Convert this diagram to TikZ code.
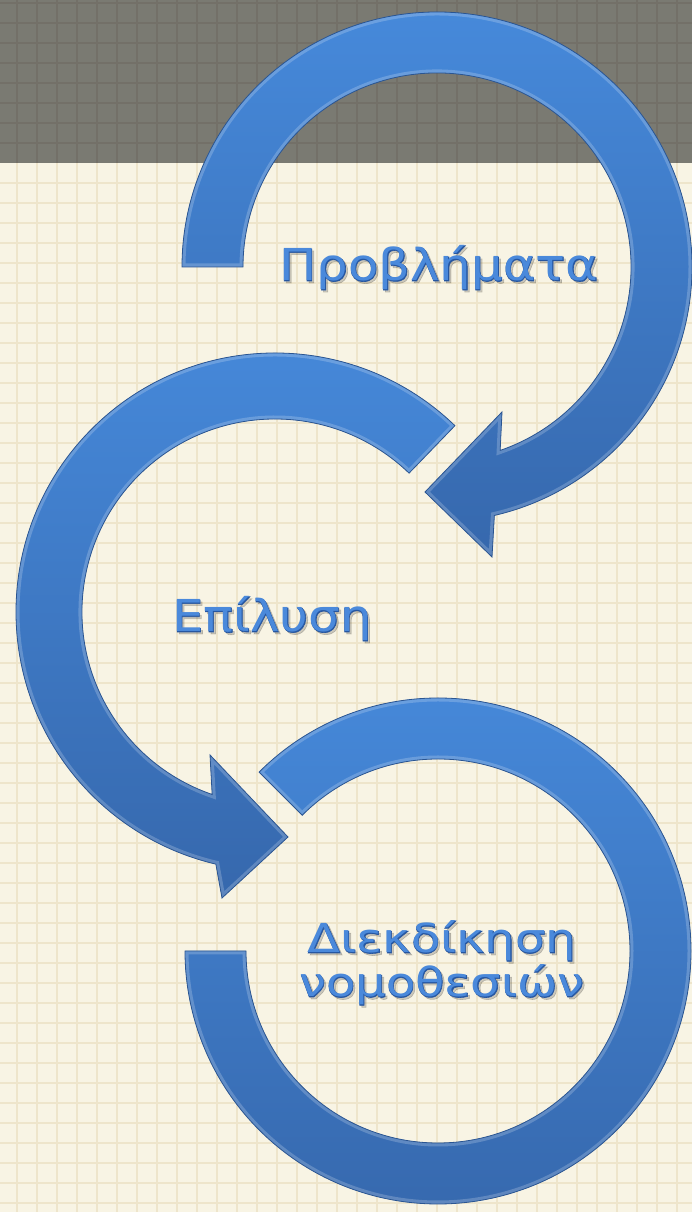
\documentclass[tikz,border=0pt]{standalone}
\usepackage{fontspec}
\setmainfont{DejaVu Sans}
\newfontfamily\lblfont[FakeStretch=1.13]{DejaVu Sans}
\newfontfamily\lblfontB[FakeStretch=1.13,FakeBold=1.4]{DejaVu Sans}
\newfontfamily\lblfontS[FakeStretch=1.2]{DejaVu Sans}
\newfontfamily\lblfontSB[FakeStretch=1.2,FakeBold=1.4]{DejaVu Sans}
\definecolor{bandgray}{HTML}{7A7A72}
\definecolor{bandline}{HTML}{737068}
\definecolor{paper}{HTML}{F8F4E4}
\definecolor{paperline}{HTML}{EEE5CB}
\definecolor{arrtop}{HTML}{4689DA}
\definecolor{arrbot}{HTML}{3668AD}
\definecolor{arredge}{HTML}{2A5592}
\definecolor{txtfill}{HTML}{4A89DB}
\definecolor{txtedge}{HTML}{2656A0}
\tikzset{
  arrowfill/.style={top color=arrtop, bottom color=arrbot},
  arrowedge/.style={draw=arredge, line width=0.8pt, line join=miter},
  arrowglow/.style={draw=white, opacity=0.2, line width=7pt},
  arrowshadow/.style={fill=black, opacity=0.09},
  lbl/.style={inner sep=0pt, anchor=base, text=txtfill},
  lbledge/.style={inner sep=0pt, anchor=base, text=txtedge},
  lblshadow/.style={inner sep=0pt, anchor=base, text=black, opacity=0.18}
}
\begin{document}
\begin{tikzpicture}[x=1pt,y=1pt]
\useasboundingbox (0,0) rectangle (692,1212);
\clip (0,0) rectangle (692,1212);
% background
\fill[paper] (0,0) rectangle (692,1049);
\fill[bandgray] (0,1049) rectangle (692,1212);
\foreach \gx in {17,37,...,677} {
  \draw[paperline, line width=1.3pt] (\gx,0) -- (\gx,1049);
  \draw[bandline, line width=1.3pt] (\gx,1049) -- (\gx,1212);
}
\foreach \gy in {9,29,...,1029} {
  \draw[paperline, line width=1.3pt] (0,\gy) -- (692,\gy);
}
\foreach \gy in {1069,1089,...,1209} {
  \draw[bandline, line width=1.3pt] (0,\gy) -- (692,\gy);
}
% centres
\coordinate (c1) at (437,945);
\coordinate (c2) at (275,600);
\coordinate (c3) at (438,261);
% arrow 1
\path (c1) ++(180:255) coordinate (s1o);
\path (c1) ++(-71:194) coordinate (n1);
\coordinate (b1l) at (492,655);
\coordinate (t1) at (425,720);
\coordinate (b1u) at (502,800);
% arrow 2
\path (c2) ++(46:259) coordinate (s2o);
\path (c2) ++(251:193) coordinate (n2);
\coordinate (b2l) at (222,314);
\coordinate (t2) at (288,375);
\coordinate (b2u) at (210,457);
% arrow 3
\path (c3) ++(135:253) coordinate (s3o);
\path (c3) ++(180:192) coordinate (e3i);
\def\arrowone{(s1o) arc[start angle=180,end angle=-77,radius=255] -- (b1l) -- (t1) -- (b1u) -- (n1) arc[start angle=-71,end angle=180,radius=194] -- cycle}
\def\arrowtwo{(s2o) arc[start angle=46,end angle=256.8,radius=259] -- (b2l) -- (t2) -- (b2u) -- (n2) arc[start angle=251,end angle=46,radius=193] -- cycle}
\def\arrowthree{(s3o) arc[start angle=135,end angle=-180,radius=253] -- (e3i) arc[start angle=-180,end angle=135,radius=192] -- cycle}
% shadows
\begin{scope}[shift={(3,-4)}]
  \fill[arrowshadow] \arrowone;
  \fill[arrowshadow] \arrowtwo;
  \fill[arrowshadow] \arrowthree;
\end{scope}
\begin{scope}[shift={(1.5,-2)}]
  \fill[arrowshadow] \arrowone;
  \fill[arrowshadow] \arrowtwo;
  \fill[arrowshadow] \arrowthree;
\end{scope}
% arrows
\shade[arrowfill] \arrowone;
\begin{scope}\clip \arrowone; \draw[arrowglow] \arrowone; \end{scope}
\draw[arrowedge] \arrowone;
\shade[arrowfill] \arrowtwo;
\begin{scope}\clip \arrowtwo; \draw[arrowglow] \arrowtwo; \end{scope}
\draw[arrowedge] \arrowtwo;
\shade[arrowfill] \arrowthree;
\begin{scope}\clip \arrowthree; \draw[arrowglow] \arrowthree; \end{scope}
\draw[arrowedge] \arrowthree;
% labels
\node[lblshadow] (l1s) at (441,929) {\fontsize{44}{50}\lblfontB Προβλήματα};
\node[lbledge] (l1e) at (439,931) {\fontsize{44}{50}\lblfontB Προβλήματα};
\node[lbl] (l1) at (439,931) {\fontsize{44}{50}\lblfont Προβλήματα};
\node[lblshadow] (l2s) at (274,578) {\fontsize{44}{50}\lblfontB Επίλυση};
\node[lbledge] (l2e) at (272,580) {\fontsize{44}{50}\lblfontB Επίλυση};
\node[lbl] (l2) at (272,580) {\fontsize{44}{50}\lblfont Επίλυση};
\node[lblshadow] (l3s) at (444,257) {\fontsize{40}{46}\lblfontSB Διεκδίκηση};
\node[lbledge] (l3e) at (442,259) {\fontsize{40}{46}\lblfontSB Διεκδίκηση};
\node[lbl] (l3) at (442,259) {\fontsize{40}{46}\lblfontS Διεκδίκηση};
\node[lblshadow] (l4s) at (444,213) {\fontsize{40}{46}\lblfontSB νομοθεσιών};
\node[lbledge] (l4e) at (442,215) {\fontsize{40}{46}\lblfontSB νομοθεσιών};
\node[lbl] (l4) at (442,215) {\fontsize{40}{46}\lblfontS νομοθεσιών};
\end{tikzpicture}
\end{document}
